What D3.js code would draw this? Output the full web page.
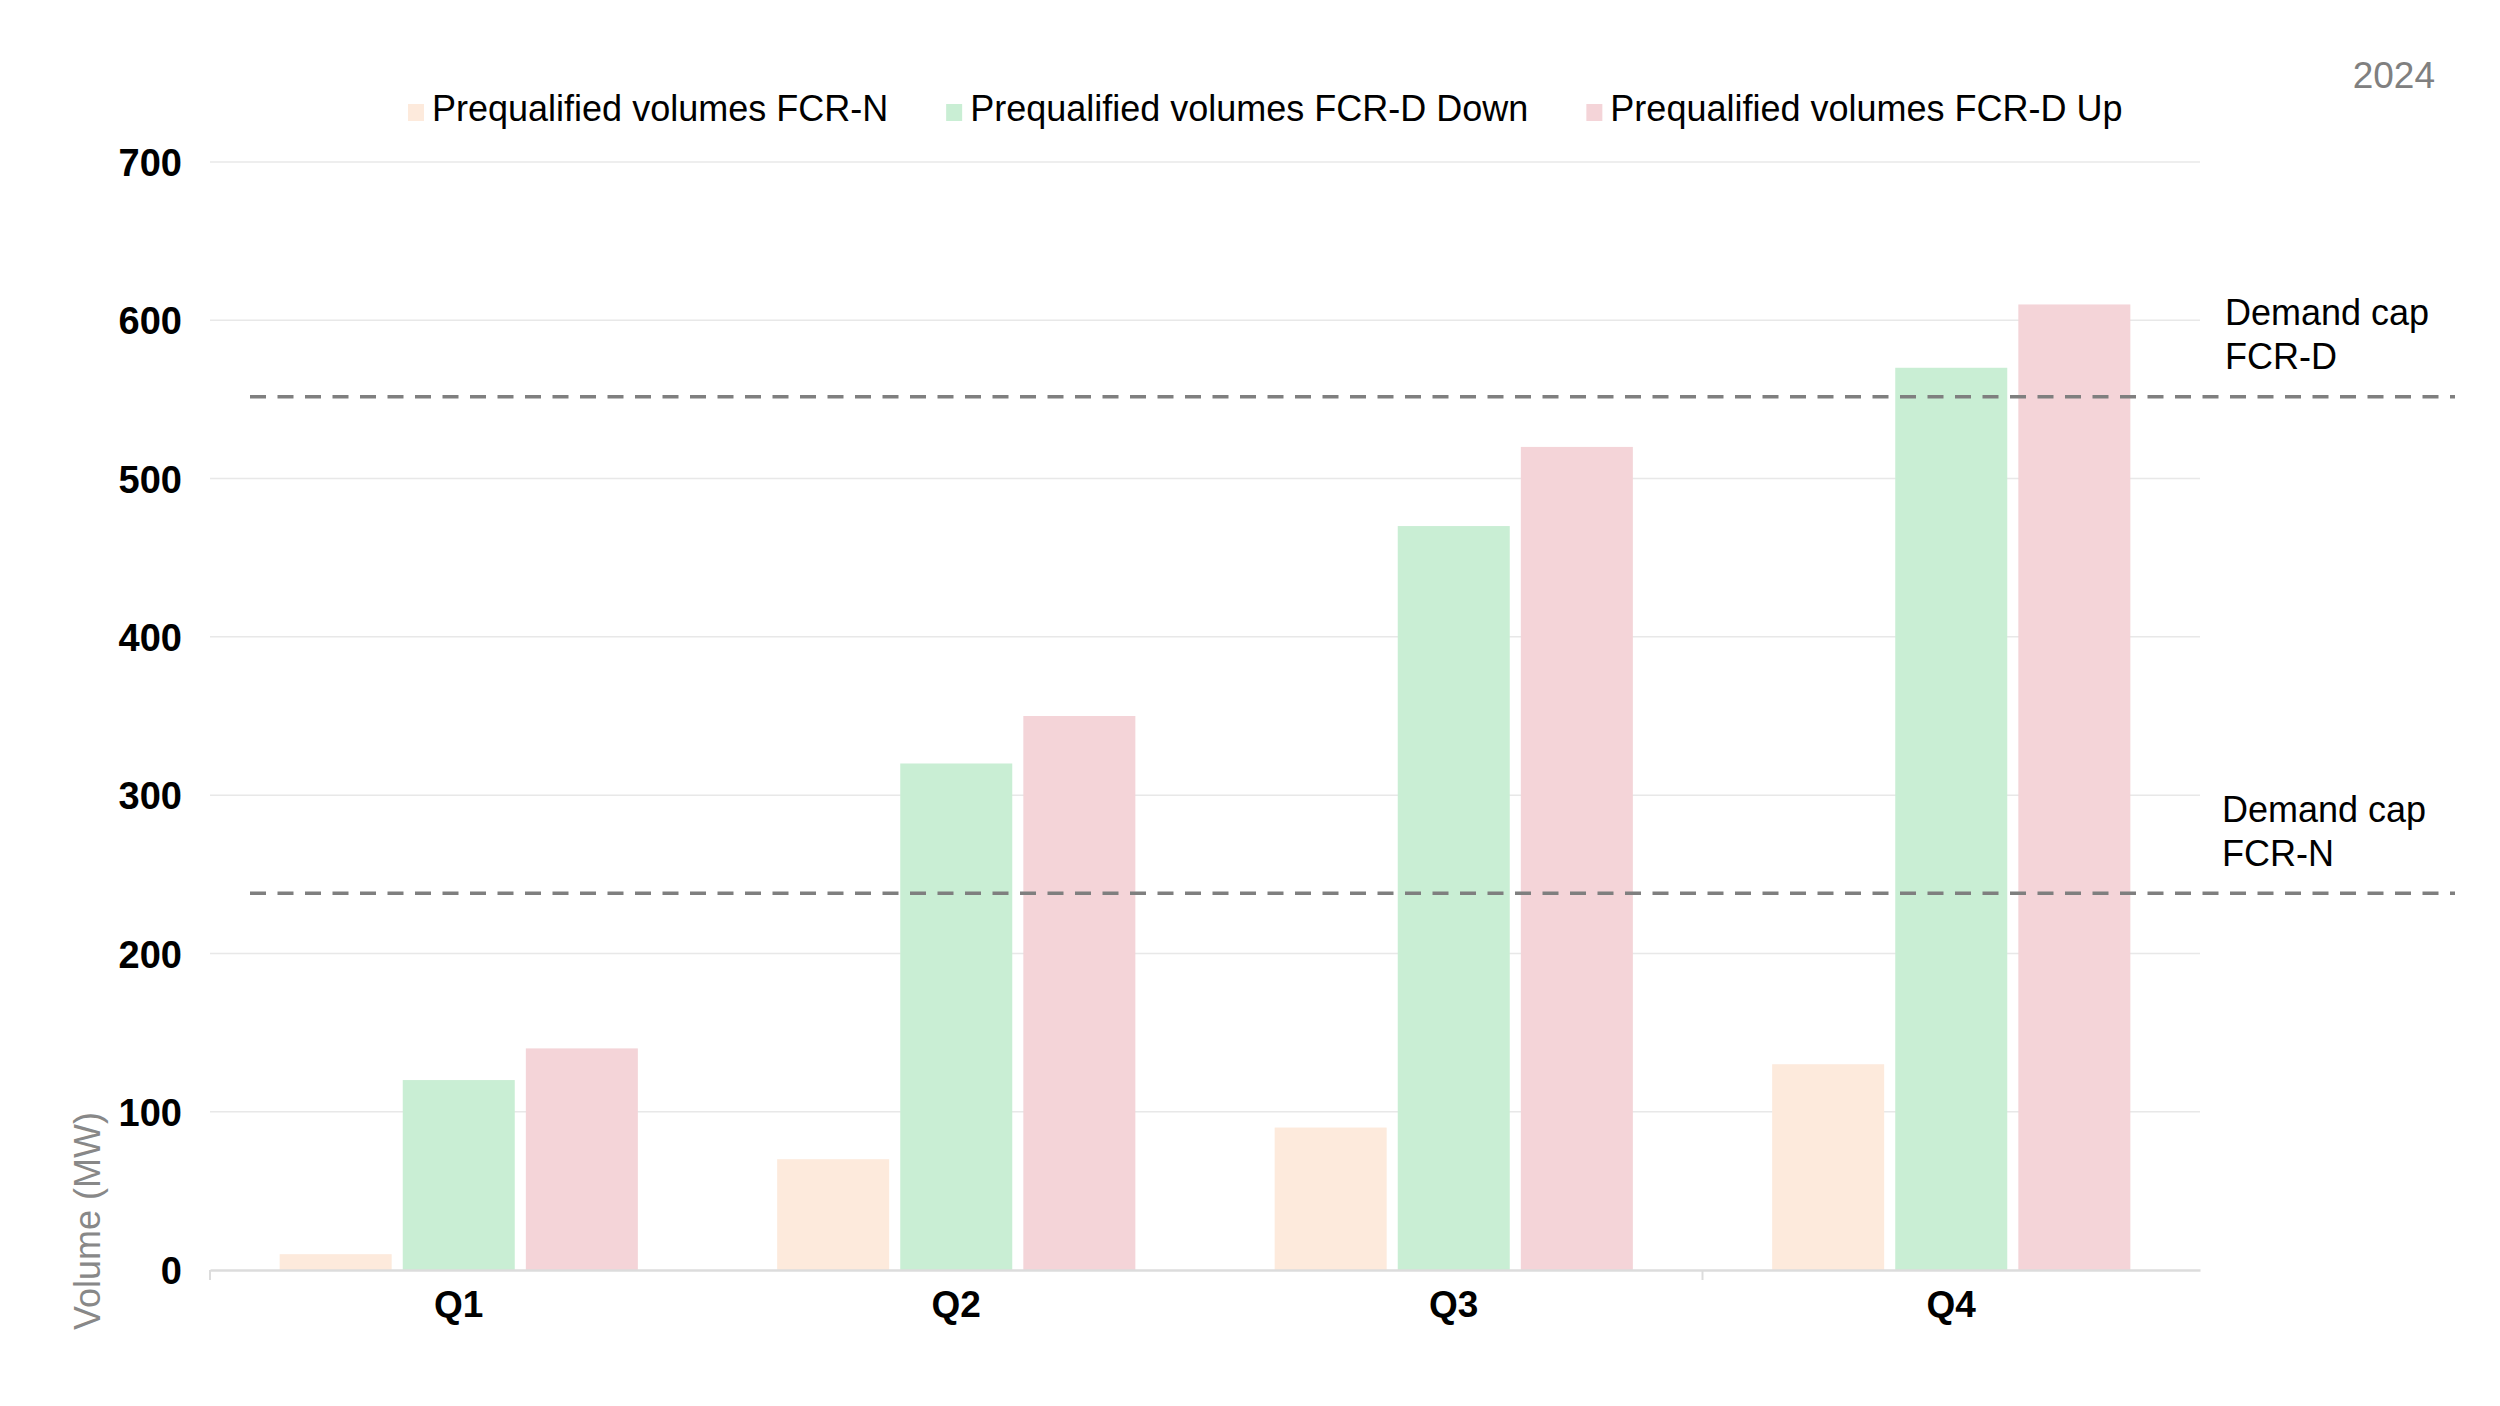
<!DOCTYPE html>
<html>
<head>
<meta charset="utf-8">
<script src="https://cdn.jsdelivr.net/npm/d3@7"></script>
<style>
  html, body { margin: 0; padding: 0; background: #fff; }
  svg { display: block; font-family: "Liberation Sans", Arial, Helvetica, sans-serif; }
</style>
</head>
<body>
<script>
// ---- Data ----
const categories = ["Q1", "Q2", "Q3", "Q4"];
const seriesNames = [
  "Prequalified volumes FCR-N",
  "Prequalified volumes FCR-D Down",
  "Prequalified volumes FCR-D Up"
];
const fcrN = [10, 70, 90, 130];
const fcrDDown = [120, 320, 470, 570];
const fcrDUp = [140, 350, 520, 610];
const seriesColors = ["#FDEADC", "#C9EED4", "#F4D4D8"];
const yTicks = [0, 100, 200, 300, 400, 500, 600, 700];
const capNames = [["Demand cap", "FCR-D"], ["Demand cap", "FCR-N"]];
const capValues = [551.7, 238];
const yearLabel = "2024";
const yAxisTitle = "Volume (MW)";

const seriesValues = [fcrN, fcrDDown, fcrDUp];

// ---- Layout ----
const W = 2500, H = 1406;
const plotLeft = 210, plotRight = 2200, plotTop = 162, plotBottom = 1270;

const svg = d3.select("body").append("svg").attr("width", W).attr("height", H);

const x0 = d3.scaleBand().domain(categories).range([plotLeft, plotRight]).padding(0);
const groupPad = x0.bandwidth() * 0.14;
const x1 = d3.scaleBand().domain(d3.range(seriesNames.length))
  .range([groupPad, x0.bandwidth() - groupPad]).paddingInner(0.09).paddingOuter(0);
const y = d3.scaleLinear().domain([0, 700]).range([plotBottom, plotTop]);

// gridlines
svg.append("g").selectAll("line").data(yTicks.filter(d => d > 0)).join("line")
  .attr("x1", plotLeft).attr("x2", plotRight)
  .attr("y1", d => y(d)).attr("y2", d => y(d))
  .attr("stroke", "#e8e8e8").attr("stroke-width", 1.5);

// y axis labels
const yAxis = d3.axisLeft(y).tickValues(yTicks).tickSize(0).tickPadding(0).tickFormat(d3.format("d"));
const yg = svg.append("g").attr("transform", `translate(182,0)`).call(yAxis);
yg.select(".domain").remove();
yg.selectAll("text").attr("font-size", 38).attr("font-weight", "bold").attr("fill", "#000")
  .attr("font-family", "'Liberation Sans', Arial, sans-serif").attr("dy", "0.36em");

// bars
const groups = svg.append("g").selectAll("g").data(categories).join("g")
  .attr("transform", d => `translate(${x0(d)},0)`);
groups.selectAll("rect")
  .data((c, ci) => seriesValues.map((vals, si) => ({ si, v: vals[ci] })))
  .join("rect")
  .attr("x", d => x1(d.si))
  .attr("width", x1.bandwidth())
  .attr("y", d => y(d.v))
  .attr("height", d => y(0) - y(d.v))
  .attr("fill", d => seriesColors[d.si]);

// x axis
const xAxis = d3.axisBottom(x0).tickSize(0).tickPadding(0);
const xg = svg.append("g").attr("transform", `translate(0,${plotBottom})`).call(xAxis);
xg.select(".domain").attr("stroke", "#dcdcdc").attr("stroke-width", 2.5);
xg.selectAll("text").attr("font-size", 37).attr("font-weight", "bold").attr("fill", "#000")
  .attr("font-family", "'Liberation Sans', Arial, sans-serif").attr("y", 47).attr("dy", 0);
// visible boundary ticks
const bounds = [x0(categories[0]), x0(categories[3])];
svg.append("g").selectAll("line").data(bounds).join("line")
  .attr("x1", d => d).attr("x2", d => d)
  .attr("y1", plotBottom).attr("y2", plotBottom + 10)
  .attr("stroke", "#dcdcdc").attr("stroke-width", 2);

// demand cap lines
svg.append("g").selectAll("line").data(capValues).join("line")
  .attr("x1", 250).attr("x2", 2455)
  .attr("y1", d => y(d)).attr("y2", d => y(d))
  .attr("stroke", "#7f7f7f").attr("stroke-width", 3.5)
  .attr("stroke-dasharray", "16,11.5");

// demand cap labels
const capLabelPos = [[2225, 325], [2222, 822]];
capNames.forEach((lines, i) => {
  const t = svg.append("text").attr("font-size", 36).attr("fill", "#000");
  lines.forEach((ln, j) => {
    t.append("tspan").attr("x", capLabelPos[i][0]).attr("y", capLabelPos[i][1] + j * 44).text(ln);
  });
});

// legend
let lx = 408;
const legend = svg.append("g");
seriesNames.forEach((name, i) => {
  legend.append("rect").attr("x", lx).attr("y", 104).attr("width", 16).attr("height", 17)
    .attr("fill", seriesColors[i]);
  const t = legend.append("text").attr("x", lx + 24).attr("y", 121)
    .attr("font-size", 36).attr("fill", "#000").text(name);
  const w = t.node().getComputedTextLength();
  lx = lx + 24 + w + 58;
});

// year label
svg.append("text").attr("x", 2435).attr("y", 88).attr("text-anchor", "end")
  .attr("font-size", 37).attr("fill", "#808080").text(yearLabel);

// y axis title
svg.append("text").attr("transform", "translate(100,1330) rotate(-90)")
  .attr("text-anchor", "start").attr("font-size", 36).attr("fill", "#888888").text(yAxisTitle);
</script>
</body>
</html>
